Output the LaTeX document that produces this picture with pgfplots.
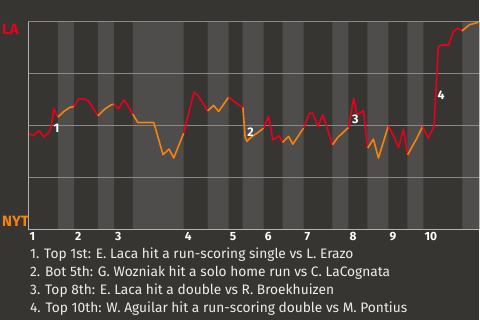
\documentclass[border=0pt]{standalone}
\usepackage{pgfplots}
\pgfplotsset{compat=1.18}
\usepackage{fontspec}
\setmainfont{Fira Sans}
\definecolor{bg}{HTML}{373532}
\definecolor{band}{HTML}{4E4D4B}
\definecolor{lared}{HTML}{E8001C}
\definecolor{nyor}{HTML}{F5820F}
\definecolor{gridc}{HTML}{8A8987}
\definecolor{axc}{HTML}{B4B3B1}
\definecolor{txt}{HTML}{EDEDED}
\pgfplotsset{bandfill/.style={fill=band, draw=none, line width=0pt}}
\begin{document}
\begin{tikzpicture}
\fill[bg] (0bp,0bp) rectangle (480bp,320bp);
\begin{axis}[
  at={(28.5bp,90bp)}, anchor=south west,
  scale only axis, width=451.5bp, height=208bp,
  xmin=28.5, xmax=480, ymin=0, ymax=1,
  axis line style={draw=none},
  ytick=\empty,
  major tick length=0pt,
  xtick={28.5,74,114,184,229,264,304,349,389,424},
  xticklabels={1,2,3,4,5,6,7,8,9,10},
  x tick label style={anchor=north west, inner sep=0pt, yshift=-2.5bp, xshift=1bp, text=white, font=\bfseries\fontsize{12}{12}\selectfont},
  clip=false,
  every axis plot/.append style={line width=1.6bp, line join=round},
]
% half-inning bands (bottom halves)
\addplot[bandfill] coordinates {(58,0)(58,1)(74,1)(74,0)} \closedcycle;
\addplot[bandfill] coordinates {(98,0)(98,1)(114,1)(114,0)} \closedcycle;
\addplot[bandfill] coordinates {(133,0)(133,1)(184,1)(184,0)} \closedcycle;
\addplot[bandfill] coordinates {(208,0)(208,1)(229,1)(229,0)} \closedcycle;
\addplot[bandfill] coordinates {(243,0)(243,1)(264,1)(264,0)} \closedcycle;
\addplot[bandfill] coordinates {(283,0)(283,1)(304,1)(304,0)} \closedcycle;
\addplot[bandfill] coordinates {(333,0)(333,1)(349,1)(349,0)} \closedcycle;
\addplot[bandfill] coordinates {(368,0)(368,1)(389,1)(389,0)} \closedcycle;
\addplot[bandfill] coordinates {(408,0)(408,1)(424,1)(424,0)} \closedcycle;
\addplot[bandfill] coordinates {(463,0)(463,1)(480,1)(480,0)} \closedcycle;
% grid lines
\draw[gridc, line width=1bp] (axis cs:28.5,0.25) -- (axis cs:480,0.25);
\draw[gridc, line width=1bp] (axis cs:28.5,0.5) -- (axis cs:480,0.5);
\draw[gridc, line width=1bp] (axis cs:28.5,0.75) -- (axis cs:480,0.75);
\draw[gridc, line width=1bp] (axis cs:28.5,1) -- (axis cs:480,1);
% Top 1
\addplot[lared] coordinates {(28.5,0.463)(33.3,0.452)(39,0.477)(44,0.446)(49,0.468)(51.3,0.497)(54,0.582)(58,0.542)};
% Bot 1
\addplot[nyor] coordinates {(58,0.542)(64,0.569)(69.7,0.588)(74,0.593)};
% Top 2
\addplot[lared] coordinates {(74,0.593)(79,0.630)(84.7,0.630)(89,0.617)(98,0.548)};
% Bot 2
\addplot[nyor] coordinates {(98,0.548)(105.3,0.582)(111.3,0.601)(114,0.604)};
% Top 3
\addplot[lared] coordinates {(114,0.604)(118.7,0.582)(124,0.624)(128,0.598)(133,0.556)};
% Bot 3
\addplot[nyor] coordinates {(133,0.556)(138,0.516)(154,0.516)(163.3,0.361)(169.3,0.388)(174,0.345)(184,0.465)};
% Top 4
\addplot[lared] coordinates {(184,0.465)(194.3,0.662)(198.3,0.646)(208,0.572)};
% Bot 4
\addplot[nyor] coordinates {(208,0.572)(214,0.598)(219,0.569)(229,0.638)};
% Top 5
\addplot[lared] coordinates {(229,0.638)(236.7,0.609)(243.3,0.588)};
% Bot 5
\addplot[nyor] coordinates {(243.3,0.588)(245.5,0.447)(247.3,0.425)(252,0.447)(258,0.466)(264,0.489)};
% Top 6
\addplot[lared] coordinates {(264,0.489)(269,0.545)(273.3,0.433)(276.7,0.441)(279.3,0.453)(283,0.420)};
% Bot 6
\addplot[nyor] coordinates {(283,0.420)(289,0.449)(293.3,0.412)(304,0.489)};
% Top 7
\addplot[lared] coordinates {(304,0.489)(310,0.561)(313.3,0.561)(318.3,0.497)(323.3,0.553)(333,0.409)};
% Bot 7
\addplot[nyor] coordinates {(333,0.409)(338.3,0.444)(349,0.492)};
% Top 8
\addplot[lared] coordinates {(349,0.492)(351,0.545)(354.3,0.633)(357.3,0.553)(364,0.572)(368.3,0.393)};
% Bot 8
\addplot[nyor] coordinates {(368.3,0.393)(374,0.436)(379,0.345)(389,0.500)};
% Top 9
\addplot[lared] coordinates {(389,0.500)(394.3,0.449)(399.3,0.396)(404,0.484)(408.3,0.361)};
% Bot 9
\addplot[nyor] coordinates {(408.3,0.361)(416.7,0.433)(423.3,0.497)};
% Top 10
\addplot[lared] coordinates {(423.3,0.497)(429,0.441)(434.7,0.497)(439,0.881)(442.7,0.889)(449.3,0.889)(454,0.953)(458.3,0.970)(462.7,0.957)};
% Bot 10
\addplot[nyor] coordinates {(462.7,0.957)(470,0.986)(479.3,0.999)};
% axis lines
\draw[axc, line width=1bp] (axis cs:28.5,0) -- (axis cs:28.5,1);
\draw[axc, line width=1.5bp] (axis cs:28.5,0) -- (axis cs:480,0);
% event labels
\node[text=white, font=\bfseries\fontsize{12.5}{12.5}\selectfont, inner sep=0pt] at (axis cs:56.5,0.49) {1};
\node[text=white, font=\bfseries\fontsize{12.5}{12.5}\selectfont, inner sep=0pt] at (axis cs:251,0.47) {2};
\node[text=white, font=\bfseries\fontsize{12.5}{12.5}\selectfont, inner sep=0pt] at (axis cs:356,0.529) {3};
\node[text=white, font=\bfseries\fontsize{12.5}{12.5}\selectfont, inner sep=0pt] at (axis cs:441.7,0.649) {4};
\end{axis}
\node[anchor=west, text=lared, font=\bfseries\fontsize{15}{15}\selectfont, inner sep=0pt] at (2bp,291bp) {LA};
\node[anchor=west, text=nyor, font=\bfseries\fontsize{15}{15}\selectfont, inner sep=0pt] at (2bp,98.5bp) {NYT};
\node[anchor=base west, text=txt, font=\fontsize{13.8}{14}\selectfont, inner sep=0pt] at (30bp,61bp) {1. Top 1st: E. Laca hit a run-scoring single vs L. Erazo};
\node[anchor=base west, text=txt, font=\fontsize{13.8}{14}\selectfont, inner sep=0pt] at (30bp,43bp) {2. Bot 5th: G. Wozniak hit a solo home run vs C. LaCognata};
\node[anchor=base west, text=txt, font=\fontsize{13.8}{14}\selectfont, inner sep=0pt] at (30bp,25bp) {3. Top 8th: E. Laca hit a double vs R. Broekhuizen};
\node[anchor=base west, text=txt, font=\fontsize{13.8}{14}\selectfont, inner sep=0pt] at (30bp,7bp) {4. Top 10th: W. Aguilar hit a run-scoring double vs M. Pontius};
\end{tikzpicture}
\end{document}
